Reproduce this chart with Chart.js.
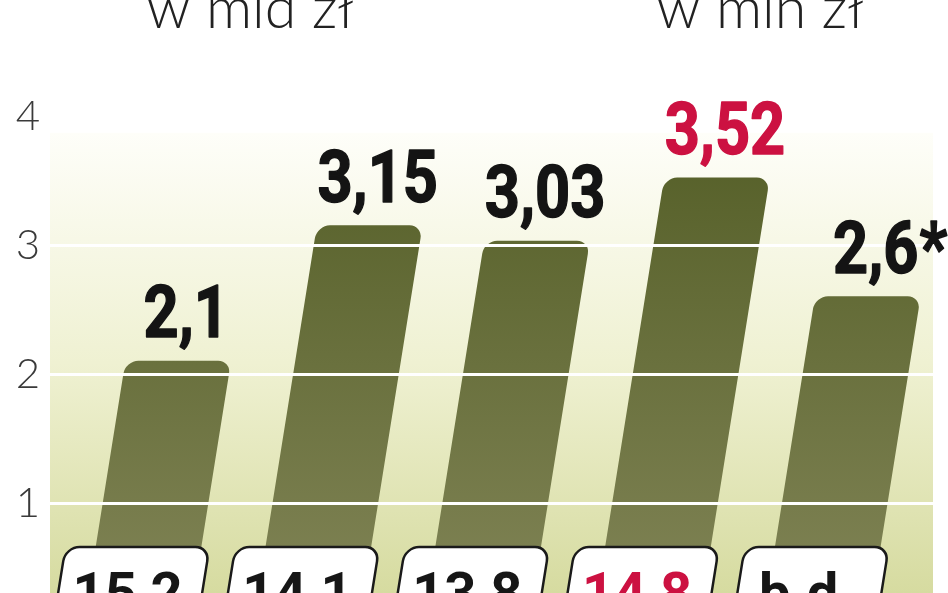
<!DOCTYPE html>
<html>
<head>
<meta charset="utf-8">
<script src="https://cdn.jsdelivr.net/npm/chart.js@4"></script>
<style>
  html, body { margin: 0; padding: 0; background: #fff; overflow: hidden; }
  #wrap { position: relative; width: 948px; height: 720px; }
</style>
</head>
<body>
<div id="wrap"><canvas id="bars" width="948" height="720"></canvas></div>
<script>
const barValues = [2.1, 3.15, 3.03, 3.52, 2.6];
const barNotes = ["", "", "", "", "*"];
const boxValues = [15.2, 14.1, 13.8, 14.8, null];
const highlight = [false, false, false, true, false];
const yTicks = [0, 1, 2, 3, 4];
const units = ["w mld zł", "w mln zł"];

const SKEW = 0.16;
const RED = "#cc1141";

function fmt(v) {
  return v === null ? "b.d." : String(v).replace(".", ",");
}

function barFill(c) {
  if (!c.chart.chartArea) return "#646c35";
  const g = c.chart.ctx.createLinearGradient(0, 160, 0, 560);
  g.addColorStop(0, "#57612a");
  g.addColorStop(1, "#7c8051");
  return g;
}

// skew the canvas around the zero line so bars lean right
function lean(ctx, y0) {
  ctx.translate(0, y0);
  ctx.transform(1, 0, -SKEW, 1, 0, 0);
  ctx.translate(0, -y0);
}

// text squeezed horizontally, centred on x
function squeezed(ctx, text, x, y, sx, heavy) {
  ctx.save();
  ctx.translate(x, y);
  ctx.scale(sx, 1);
  ctx.textAlign = "center";
  ctx.textBaseline = "alphabetic";
  ctx.fillText(text, 0, 0);
  if (heavy) {
    ctx.strokeStyle = ctx.fillStyle;
    ctx.lineWidth = heavy;
    ctx.lineJoin = "round";
    ctx.strokeText(text, 0, 0);
  }
  ctx.restore();
}

const backdrop = {
  id: "backdrop",
  beforeDraw(chart) {
    const { ctx, chartArea } = chart;
    const top = chart.scales.y.getPixelForValue(3.87);
    ctx.save();
    ctx.fillStyle = "#fff";
    ctx.fillRect(0, 0, chart.width, chart.height);
    const g = ctx.createLinearGradient(0, top, 0, 593);
    g.addColorStop(0, "#fefef9");
    g.addColorStop(0.5, "#eff1d2");
    g.addColorStop(1, "#d6dba0");
    ctx.fillStyle = g;
    ctx.fillRect(chartArea.left, top, chartArea.right - chartArea.left, chart.height - top);

    // unit captions, cut by the top edge
    ctx.fillStyle = "#222";
    ctx.font = "300 58px Lato";
    [250, 760].forEach((cx, i) => {
      const w = ctx.measureText(units[i]).width;
      squeezed(ctx, units[i], cx, 28, 207 / w);
    });
    ctx.restore();
  },
};

const slant = {
  id: "slant",
  beforeDatasetsDraw(chart) {
    chart.ctx.save();
    lean(chart.ctx, chart.scales.y.getPixelForValue(0));
  },
  afterDatasetsDraw(chart) {
    chart.ctx.restore();
  },
};

const annotate = {
  id: "annotate",
  afterDraw(chart) {
    const ctx = chart.ctx;
    const y0 = chart.scales.y.getPixelForValue(0);
    const bars = chart.getDatasetMeta(0).data;
    ctx.save();
    bars.forEach((bar, i) => {
      // value above the bar
      const num = fmt(barValues[i]);
      const tx = bar.x + SKEW * (y0 - bar.y) + 8;
      const ty = bar.y - 24;
      ctx.font = "bold 73px Roboto";
      ctx.fillStyle = highlight[i] ? RED : "#141414";
      squeezed(ctx, num, tx, ty, 0.84, 1.5);
      if (barNotes[i]) {
        const half = ctx.measureText(num).width * 0.84 / 2;
        const sw = ctx.measureText(barNotes[i]).width * 0.84;
        squeezed(ctx, barNotes[i], tx + half + sw / 2 + 1, ty, 0.84, 1.5);
      }

      // box with the second figure
      const bx = bar.x - 11;
      ctx.save();
      lean(ctx, y0);
      ctx.beginPath();
      ctx.roundRect(bx - 72, 547, 144, 100, 14);
      ctx.fillStyle = "#fff";
      ctx.fill();
      ctx.lineWidth = 2.5;
      ctx.strokeStyle = "#1a1a1a";
      ctx.stroke();
      ctx.restore();

      ctx.font = "bold 56px Roboto";
      ctx.fillStyle = highlight[i] ? RED : "#161616";
      squeezed(ctx, fmt(boxValues[i]), bx + SKEW * (y0 - 590) - 3, 612, 1);
    });
    ctx.restore();
  },
};

new Chart(document.getElementById("bars"), {
  type: "bar",
  data: {
    datasets: [
      {
        data: barValues.map((v, i) => ({ x: i, y: v })),
        backgroundColor: barFill,
        borderWidth: 0,
        borderRadius: 13,
        barThickness: 105,
        clip: false,
      },
    ],
  },
  options: {
    responsive: false,
    animation: false,
    layout: { padding: { top: 116, right: 15, bottom: 88, left: 0 } },
    plugins: { legend: { display: false }, tooltip: { enabled: false } },
    scales: {
      x: { type: "linear", min: -0.5, max: 4.7, offset: false, display: false },
      y: {
        min: 0,
        max: 4,
        afterFit: (s) => { s.width = 50; },
        afterBuildTicks: (s) => { s.ticks = yTicks.map((v) => ({ value: v })); },
        grid: { color: "#ffffff", lineWidth: 3, drawTicks: false, z: 1 },
        border: { display: false },
        ticks: {
          padding: 10,
          color: "#3a3a3a",
          font: { family: "Lato", size: 42, weight: "300" },
        },
      },
    },
  },
  plugins: [backdrop, slant, annotate],
});
</script>
</body>
</html>
